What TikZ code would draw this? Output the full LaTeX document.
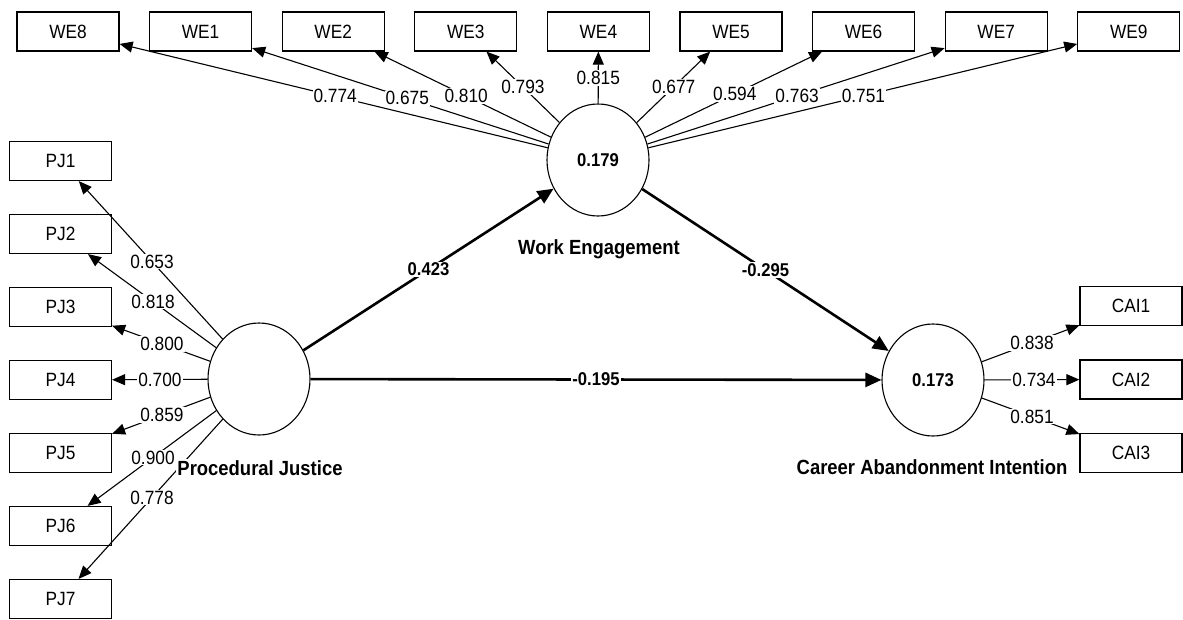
\documentclass[tikz,border=0pt]{standalone}
\usepackage{fontspec}
\setmainfont{Liberation Sans}[FakeStretch=0.9]
\usetikzlibrary{arrows.meta,calc,shapes.geometric}

\tikzset{
  ind/.style={draw,line width=1.2pt,minimum width=102pt,minimum height=39pt,inner sep=0pt,font=\fontsize{19.2}{22}\selectfont},
  lv/.style={draw,ellipse,line width=1.1pt,fill=white,minimum width=102pt,minimum height=112pt,inner sep=0pt,font=\fontsize{18.5}{21}\selectfont\bfseries},
  load/.style={line width=1.1pt,-{Triangle[length=13pt,width=11pt]}},
  coef/.style={line width=2.6pt,-{Triangle[length=16pt,width=14pt]}},
  lab/.style={fill=white,inner sep=1pt,font=\fontsize{19.2}{22}\selectfont},
  coeflab/.style={fill=white,inner sep=1pt,font=\fontsize{18.5}{21}\selectfont\bfseries},
  lvname/.style={fill=white,inner sep=1pt,font=\fontsize{20.5}{23}\selectfont\bfseries}
}

\begin{document}
\begin{tikzpicture}[x=1pt,y=-1pt]
  \useasboundingbox (0,0) rectangle (1183,619);
  \node[lv] (pj) at (259,379) {};
  \node[lv] (we) at (598,160) {0.179};
  \node[lv] (cai) at (933,380) {0.173};
  \foreach \n [count=\i from 0] in {8,1,2,3,4,5,6,7,9}
    \node[ind] (we\n) at (68+132.6*\i,31.5) {WE\n};
  \foreach \i in {1,...,7}
    \node[ind] (pj\i) at (60.5,161+73*\i-73) {PJ\i};
  \foreach \i in {1,2,3}
    \node[ind] (cai\i) at (1131,306+73.5*\i-73.5) {CAI\i};

  \foreach \n in {8,1,2,3,4,5,6,7,9}
    \draw[load] (we) -- (we\n);
  \foreach \i in {1,...,7}
    \draw[load] (pj) -- (pj\i);
  \foreach \i in {1,2,3}
    \draw[load] (cai) -- (cai\i);

  \draw[coef] (pj) -- (we) node[coeflab,midway] (c1) {0.423};
  \draw[coef] (we) -- (cai) node[coeflab,midway] (c2) {-0.295};
  \draw[coef] (pj) -- (cai) node[coeflab,midway] (c3) {-0.195};

  \foreach \b/\p/\val [count=\k] in {we8/0.496/0.774,we1/0.48/0.675,we2/0.498/0.810,
      we3/0.568/0.793,we4/0.638/0.815,we5/0.569/0.677,we6/0.515/0.594,
      we7/0.5/0.763,we9/0.5/0.751}
    \node[lab] (lw\k) at ($(we)!\p!(\b)$) {\val};
  \foreach \b/\p/\val [count=\k] in {pj1/0.539/0.653,pj2/0.534/0.818,pj3/0.489/0.800,
      pj4/0.499/0.700,pj5/0.489/0.859,pj6/0.534/0.900,pj7/0.539/0.778}
    \node[lab] (lp\k) at ($(pj)!\p!(\b)$) {\val};
  \foreach \b/\p/\val [count=\k] in {cai1/0.5/0.838,cai2/0.51/0.734,cai3/0.5/0.851}
    \node[lab] (lc\k) at ($(cai)!\p!(\b)$) {\val};

  \node[lvname] (pjname) at (260,468) {Procedural Justice};
  \node[lvname] (wename) at (599,249) {Work Engagement};
  \node[lvname] (cainame) at (932,467) {Career Abandonment Intention};
\end{tikzpicture}
\end{document}
